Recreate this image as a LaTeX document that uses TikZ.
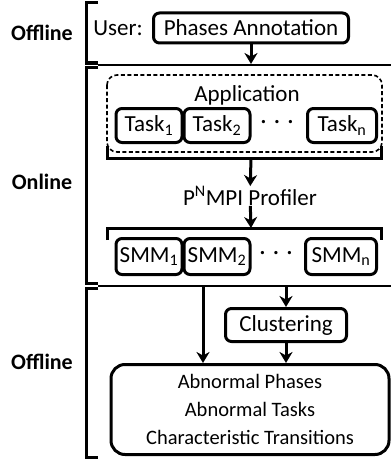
\documentclass[tikz,border=0pt]{standalone}
\usepackage{fontspec}
\setmainfont{Carlito}
\usetikzlibrary{arrows.meta}

\tikzset{
  box/.style={draw, line width=3pt, rounded corners=6pt, inner sep=0pt,
    font=\fontsize{23}{27}\selectfont},
  txt/.style={inner sep=0pt, font=\fontsize{23}{27}\selectfont},
  phase/.style={inner sep=0pt, font=\bfseries\fontsize{22}{26}\selectfont},
  brk/.style={line width=3pt},
  sep/.style={line width=1.5pt},
  flow/.style={line width=3pt, -{Stealth[length=11pt,width=13pt,inset=3.5pt]}},
}

\begin{document}
\begin{tikzpicture}[x=1pt, y=-1pt]
		%%%%% START %%%%%
		\useasboundingbox (0, 0) rectangle (391, 460);

		% phase brackets and separators
		\draw[brk] (98, 3) -- (86, 3) -- (86, 63) -- (98, 63);
		\draw[brk] (98, 67) -- (86, 67) -- (86, 283) -- (98, 283);
		\draw[brk] (98, 288) -- (86, 288) -- (86, 457) -- (98, 457);
		\draw[sep] (98, 65) -- (391, 65);
		\draw[sep] (98, 286) -- (391, 286);

		\node[phase] (off1) at (42, 33) {Offline};
		\node[phase] (onl) at (42, 182) {Online};
		\node[phase] (off2) at (42, 362) {Offline};

		% user annotation
		\node[txt] (user) at (118, 28) {User:};
		\node[box, minimum width=195, minimum height=30] (annot) at (251, 28) {Phases Annotation};
		\coordinate (in) at (251, 64);
		\draw[flow] (annot) -- (in);

		% application
		\draw[line width=1.6pt, dash pattern=on 4pt off 2.5pt, rounded corners=10pt] (107, 75) rectangle (382, 152);
		\node[txt] (app) at (247, 95) {Application};
		\node[box, minimum width=66, minimum height=34] (task1) at (149, 125.5) {Task\textsubscript{1}};
		\node[box, minimum width=66, minimum height=34] (task2) at (217, 125.5) {Task\textsubscript{2}};
		\node[txt] (tdots) at (277, 124) {·\,\,·\,\,·};
		\node[box, minimum width=69, minimum height=34] (taskn) at (342, 125.5) {Task\textsubscript{n}};
		\draw[brk] (107, 146) -- (107, 158) -- (381, 158) -- (381, 146);
		\coordinate (app out) at (251, 158);

		% profiler
		\node[txt] (prof) at (250, 196) {P\textsuperscript{N}MPI Profiler};
		\draw[flow] (app out) -- (prof);
		\coordinate (smm in) at (251, 228);
		\draw[flow] (prof) -- (smm in);
		\draw[brk] (107, 240) -- (107, 228) -- (381, 228) -- (381, 240);
		\node[box, minimum width=66, minimum height=36] (smm1) at (149, 256.5) {SMM\textsubscript{1}};
		\node[box, minimum width=66, minimum height=36] (smm2) at (217, 256.5) {SMM\textsubscript{2}};
		\node[txt] (sdots) at (276, 255) {·\,\,·\,\,·};
		\node[box, minimum width=71, minimum height=36] (smmn) at (341, 256.5) {SMM\textsubscript{n}};

		% offline analysis
		\node[box, minimum width=121, minimum height=33] (clust) at (286, 325) {Clustering};
		\node[box, rounded corners=14pt, minimum width=278, minimum height=90, align=center,
		  font=\fontsize{20.5}{28}\selectfont] (res) at (250, 409.5)
		  {Abnormal Phases\\Abnormal Tasks\\Characteristic Transitions};
		\coordinate (outL) at (203, 286);
		\coordinate (outR) at (286, 286);
		\draw[flow] (outL) -- (outL |- res.north);
		\draw[flow] (outR) -- (clust);
		\draw[flow] (clust) -- (clust |- res.north);
		%%%%% END %%%%%
\end{tikzpicture}
\end{document}
